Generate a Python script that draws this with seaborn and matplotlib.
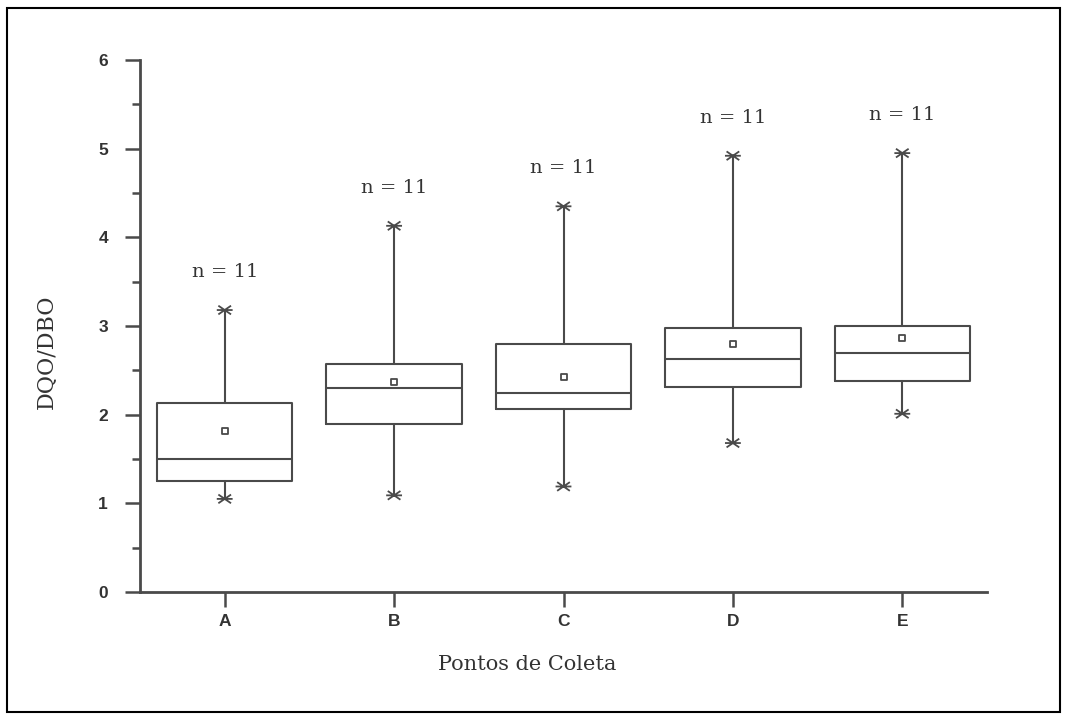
import numpy as np
import pandas as pd
import matplotlib
matplotlib.use('Agg')
import matplotlib.pyplot as plt
from matplotlib.path import Path
from matplotlib.patches import Rectangle
import seaborn as sns

# summary statistics (n = 11 per site)
pontos = ["A", "B", "C", "D", "E"]
minimo = [1.05, 1.09, 1.19, 1.68, 2.01]
q1 = [1.25, 1.90, 2.06, 2.31, 2.38]
mediana = [1.50, 2.30, 2.25, 2.63, 2.70]
q3 = [2.13, 2.57, 2.80, 2.98, 3.00]
maximo = [3.18, 4.13, 4.35, 4.92, 4.95]
media = [1.82, 2.37, 2.43, 2.80, 2.86]
n_amostras = [11, 11, 11, 11, 11]

LINE = "#4a4a4a"
SERIF = ["DejaVu Serif"]

sns.set_theme(style="ticks")
plt.rcParams["font.family"] = ["Liberation Sans", "DejaVu Sans"]

fig = plt.figure(figsize=(10.68, 7.2), dpi=100)
ax = fig.add_axes([140 / 1068, 128 / 720, 847 / 1068, 532 / 720])

stats = []
for i, p in enumerate(pontos):
    stats.append({
        "label": p, "whislo": minimo[i], "q1": q1[i], "med": mediana[i],
        "q3": q3[i], "whishi": maximo[i], "mean": media[i], "fliers": [],
    })

line_kw = dict(color=LINE, linewidth=1.5)
ax.bxp(stats, positions=range(len(pontos)), widths=0.8, showcaps=False,
       showfliers=False, showmeans=False, patch_artist=False,
       boxprops=line_kw, whiskerprops=line_kw, medianprops=line_kw)

# min/max markers drawn as asterisks
star = Path(
    [(-1, 0), (1, 0), (-0.8, -0.55), (0.8, 0.55), (-0.8, 0.55), (0.8, -0.55)],
    [Path.MOVETO, Path.LINETO, Path.MOVETO, Path.LINETO, Path.MOVETO, Path.LINETO],
)
ext = pd.DataFrame({"x": list(range(len(pontos))) * 2, "y": minimo + maximo})
sns.scatterplot(data=ext, x="x", y="y", marker=star, s=130, facecolor="none",
                edgecolor=LINE, linewidth=1.3, ax=ax, legend=False, zorder=3)

means = pd.DataFrame({"x": range(len(pontos)), "y": media})
sns.scatterplot(data=means, x="x", y="y", marker="s", s=20, facecolor="white",
                edgecolor=LINE, linewidth=1.3, ax=ax, legend=False, zorder=4)

for i, (mx, n) in enumerate(zip(maximo, n_amostras)):
    ax.text(i, mx + 0.43, f"n = {n}", ha="center", va="center", fontsize=14,
            family=SERIF, color="#333333")

ax.set_xlim(-0.5, 4.5)
ax.set_ylim(0, 6)
ax.set_xticks(range(len(pontos)))
ax.set_xticklabels(pontos)
ax.set_yticks(range(0, 7))
ax.set_yticks(np.arange(0.5, 6, 1), minor=True)
ax.tick_params(axis="both", which="major", length=11, width=1.8, color=LINE,
               labelsize=12.5, labelcolor="#333333")
ax.tick_params(axis="y", which="major", pad=12)
ax.tick_params(axis="x", which="major", pad=5)
ax.tick_params(axis="y", which="minor", length=6, width=1.8, color=LINE, left=True)
for lab in ax.get_xticklabels() + ax.get_yticklabels():
    lab.set_fontweight("bold")

sns.despine(ax=ax)
ax.spines["left"].set_linewidth(2)
ax.spines["bottom"].set_linewidth(2)
ax.spines["left"].set_color(LINE)
ax.spines["bottom"].set_color(LINE)

ax.set_xlabel("Pontos de Coleta", fontsize=15, family=SERIF, color="#333333")
ax.set_ylabel("DQO/DBO", fontsize=16, family=SERIF, color="#333333")
ax.xaxis.set_label_coords(0.457, -0.137)
ax.xaxis.label.set_va("center")
ax.yaxis.set_label_coords(-0.11, 0.451)
ax.yaxis.label.set_va("center")

# outer frame around the whole picture
fig.patches.append(Rectangle((7 / 1068, 8 / 720), 1053 / 1068, 704 / 720,
                             transform=fig.transFigure, fill=False,
                             edgecolor="black", linewidth=1.5))

fig.savefig("out.png", dpi=100, facecolor="white")
plt.close(fig)
